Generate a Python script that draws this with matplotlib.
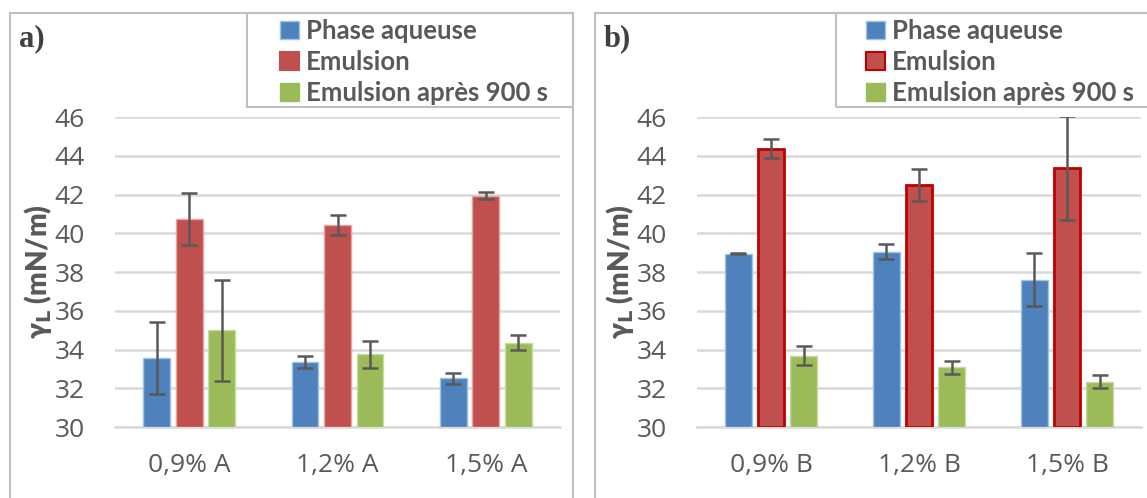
import numpy as np
import matplotlib
matplotlib.use("Agg")
import matplotlib.pyplot as plt
from matplotlib.patches import Rectangle, Patch

plt.rcParams['font.family'] = ['Open Sans', 'DejaVu Sans']

series_names = ['Phase aqueuse', 'Emulsion', 'Emulsion après 900 s']

cats_a = ['0,9% A', '1,2% A', '1,5% A']
aq_a = [33.57, 33.35, 32.51]
aq_a_err = [1.85, 0.30, 0.30]
em_a = [40.75, 40.41, 41.94]
em_a_err = [1.35, 0.52, 0.18]
em900_a = [35.0, 33.76, 34.35]
em900_a_err = [2.6, 0.69, 0.38]

cats_b = ['0,9% B', '1,2% B', '1,5% B']
aq_b = [38.95, 39.05, 37.61]
aq_b_err = [0.04, 0.37, 1.35]
em_b = [44.37, 42.49, 43.38]
em_b_err = [0.49, 0.82, 2.68]
em900_b = [33.68, 33.08, 32.34]
em900_b_err = [0.49, 0.33, 0.35]

BLUE = '#4F81BD'
RED = '#C0504D'
GREEN = '#9BBB59'
TXT = '#595959'
GRID = '#D9D9D9'
BORDER = '#BFBFBF'

W, H = 1147, 498
fig = plt.figure(figsize=(W / 100, H / 100), dpi=100)


def fx(px):
    return px / W


def fy(py):
    return 1 - py / H


def box(x0, y0, x1, y1):
    fig.patches.append(Rectangle((fx(x0), fy(y1)), fx(x1 - x0), fy(y0) - fy(y1),
                                 transform=fig.transFigure, fill=False, edgecolor=BORDER, lw=1.5))


def panel(x0, x1, cats, vals, errs, tag, border_x0, border_x1, leg_x0, leg_x1, hx, red_edge):
    box(border_x0, 13, border_x1, H + 5)
    ax = fig.add_axes([fx(x0), fy(427), fx(x1 - x0), fy(117) - fy(427)])
    x = np.arange(len(cats))
    bw = 0.18
    step = 0.22
    colors = [BLUE, RED, GREEN]
    edges = ['#9DC3E6', '#C00000' if red_edge else '#E6A5A3', '#C5DBA0']
    lws = [1.0, 2.0 if red_edge else 1.0, 1.0]
    for i, (v, e) in enumerate(zip(vals, errs)):
        ax.bar(x + (i - 1) * step, np.array(v) - 30, bw, bottom=30, color=colors[i],
               edgecolor=edges[i], linewidth=lws[i], zorder=3,
               yerr=e, error_kw=dict(ecolor=TXT, elinewidth=1.8, capsize=5.5, capthick=1.8, zorder=4))
    ax.set_xlim(-0.5, len(cats) - 0.5)
    ax.set_ylim(30, 46)
    ax.set_yticks(range(30, 47, 2))
    ax.set_xticks(x)
    ax.set_xticklabels(cats)
    ax.tick_params(axis='y', length=0, pad=22, labelsize=19, labelcolor=TXT)
    ax.tick_params(axis='x', length=0, pad=19, labelsize=19, labelcolor=TXT)
    ax.grid(axis='y', color=GRID, lw=1.8, zorder=0)
    for s in ['top', 'right', 'left']:
        ax.spines[s].set_visible(False)
    ax.spines['bottom'].set_color(GRID)
    ax.spines['bottom'].set_linewidth(1.8)
    ax.spines['bottom'].set_zorder(1)
    ax.set_ylabel('γ$_{\\mathbf{L}}$ (mN/m)', fontsize=20, fontweight='heavy', color=TXT,
                  family=['Lato', 'DejaVu Sans'], labelpad=0)
    fig.text(fx(border_x0 + 9), fy(39), tag, fontsize=22, fontweight='bold', family='Liberation Serif',
             color='#404040', va='center', ha='left')
    # legend frame drawn separately, entries placed frameless inside it
    box(leg_x0, 13, leg_x1, 107)
    handles = [Patch(facecolor=BLUE, edgecolor='#9DC3E6', lw=1),
               Patch(facecolor=RED, edgecolor='#C00000' if red_edge else RED, lw=1.5),
               Patch(facecolor=GREEN, edgecolor=GREEN, lw=1)]
    fig.legend(handles, series_names, loc='upper left',
               bbox_to_anchor=(fx(hx), fy(19)), frameon=False, borderaxespad=0, borderpad=0,
               prop=dict(weight='bold', size=18.5, family=['Lato', 'DejaVu Sans']), labelcolor=TXT,
               handlelength=0.75, handleheight=0.75, handletextpad=0.25,
               labelspacing=0.27)
    return ax


ax_a = panel(115, 560, cats_a, [aq_a, em_a, em900_a], [aq_a_err, em_a_err, em900_a_err],
             'a)', 10, 573, 247, 573, 280, False)
ax_b = panel(697, 1141, cats_b, [aq_b, em_b, em900_b], [aq_b_err, em_b_err, em900_b_err],
             'b)', 595, 1160, 836, 1165, 866, True)

fig.savefig('out.png', dpi=100)
